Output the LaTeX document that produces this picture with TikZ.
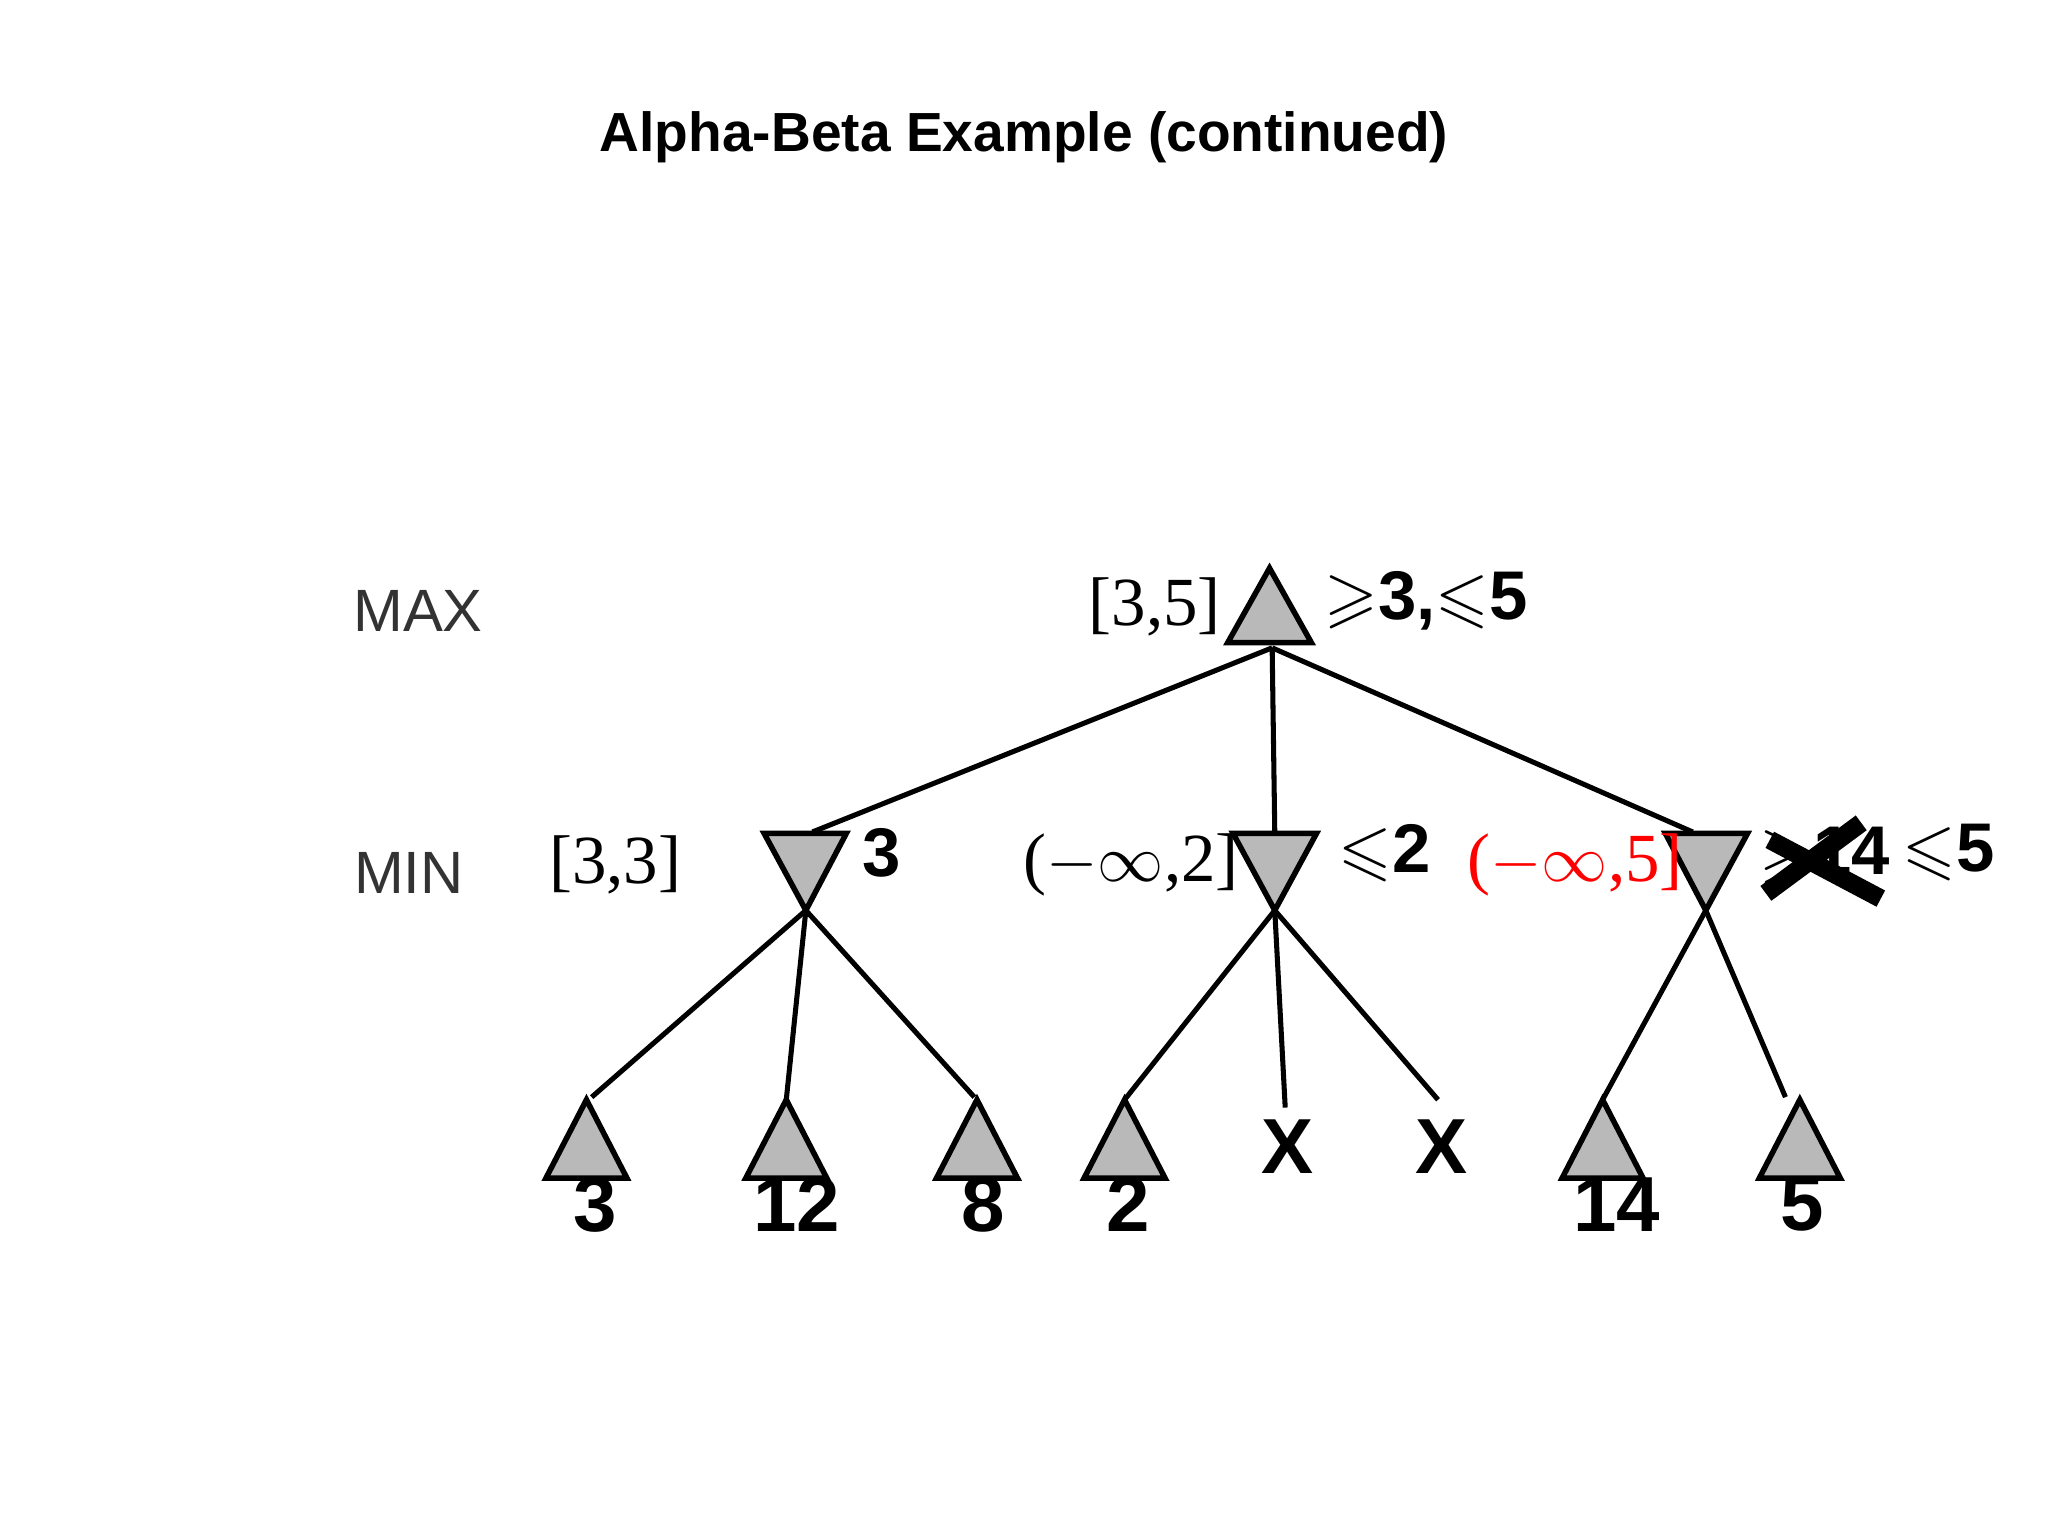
\documentclass[tikz,border=0pt]{standalone}
\usepackage{fontspec}
\setmainfont{Liberation Serif}
\newfontfamily\sansf{Liberation Sans}
\usepackage{amssymb}
\begin{document}
\begin{tikzpicture}[x=0.01cm,y=-0.01cm,
 tri/.style={fill=gray!55,draw=black,line width=1.2pt,line join=miter},
 edge/.style={line width=1.1pt},
 bl/.style={font=\sansf\bfseries\fontsize{15}{15}\selectfont},
 lv/.style={font=\sansf\bfseries\fontsize{17}{17}\selectfont},
 lvl/.style={font=\sansf\fontsize{13}{13}\selectfont,text=black!80},
 br/.style={font=\fontsize{15}{15}\selectfont}]
\useasboundingbox (0,0) rectangle (1568,1176);
\node[font=\sansf\bfseries\fontsize{12}{12}\selectfont] (title) at (784,105) {Alpha-Beta Example (continued)};
\node[lvl] (max) at (320,468) {MAX};
\node[lvl] (min) at (313,668) {MIN};
% root
\draw[tri] (940,492) -- (972,435) -- (1004,492) -- cycle;
\coordinate (r) at (974,496);
% min nodes
\draw[tri] (585,638) -- (648,638) -- (617,697) -- cycle;
\draw[tri] (944,638) -- (1008,638) -- (976,697) -- cycle;
\draw[tri] (1275,638) -- (1338,638) -- (1306,697) -- cycle;
\coordinate (m1t) at (622,637); \coordinate (m2t) at (976,637); \coordinate (m3t) at (1296,637);
\coordinate (m1) at (617,697); \coordinate (m2) at (976,697); \coordinate (m3) at (1306,697);
\draw[edge] (r) -- (m1t); \draw[edge] (r) -- (m2t); \draw[edge] (r) -- (m3t);
% leaves
\foreach \c/\n in {449/a,602/b,748/c,861/d,1227/e,1378/f}{
  \draw[tri] (\c-31,902) -- (\c,842) -- (\c+31,902) -- cycle;
  \coordinate (\n) at (\c,842);}
\draw[edge] (m1) -- (453,840); \draw[edge] (m1) -- (b); \draw[edge] (m1) -- (746,840);
\draw[edge] (m2) -- (d);
\coordinate (x1) at (984,848); \coordinate (x2) at (1101,842);
\draw[edge] (m2) -- (x1); \draw[edge] (m2) -- (x2);
\draw[edge] (m3) -- (e); \draw[edge] (m3) -- (1367,840);
\node[lv] at (986,878) {X};
\node[lv] at (1104,878) {X};
\foreach \x/\t in {456/3,610/12,753/8,864/2,1238/14,1380/5}{\node[lv] at (\x,922) {\t};}
% labels
\node[br] at (884,465) {[3,5]};
\node[bl] at (1092,460) {$\geqslant$3,$\leqslant$5};
\node[bl] at (675,653) {3};
\node[br] at (471,662) {[3,3]};
\node[br] at (866,662) {($-\infty$,2]};
\node[bl] at (1060,653) {$\leqslant$2};
\node[br,text=red] at (1206,662) {($-\infty$,5]};
\node[bl] (g14) at (1397,655) {$\geqslant$14};
\draw[line width=4pt] (1355,643) -- (1440,688);
\draw[line width=4pt] (1352,684) -- (1425,630);
\node[bl] at (1492,653) {$\leqslant$5};
\end{tikzpicture}
\end{document}
